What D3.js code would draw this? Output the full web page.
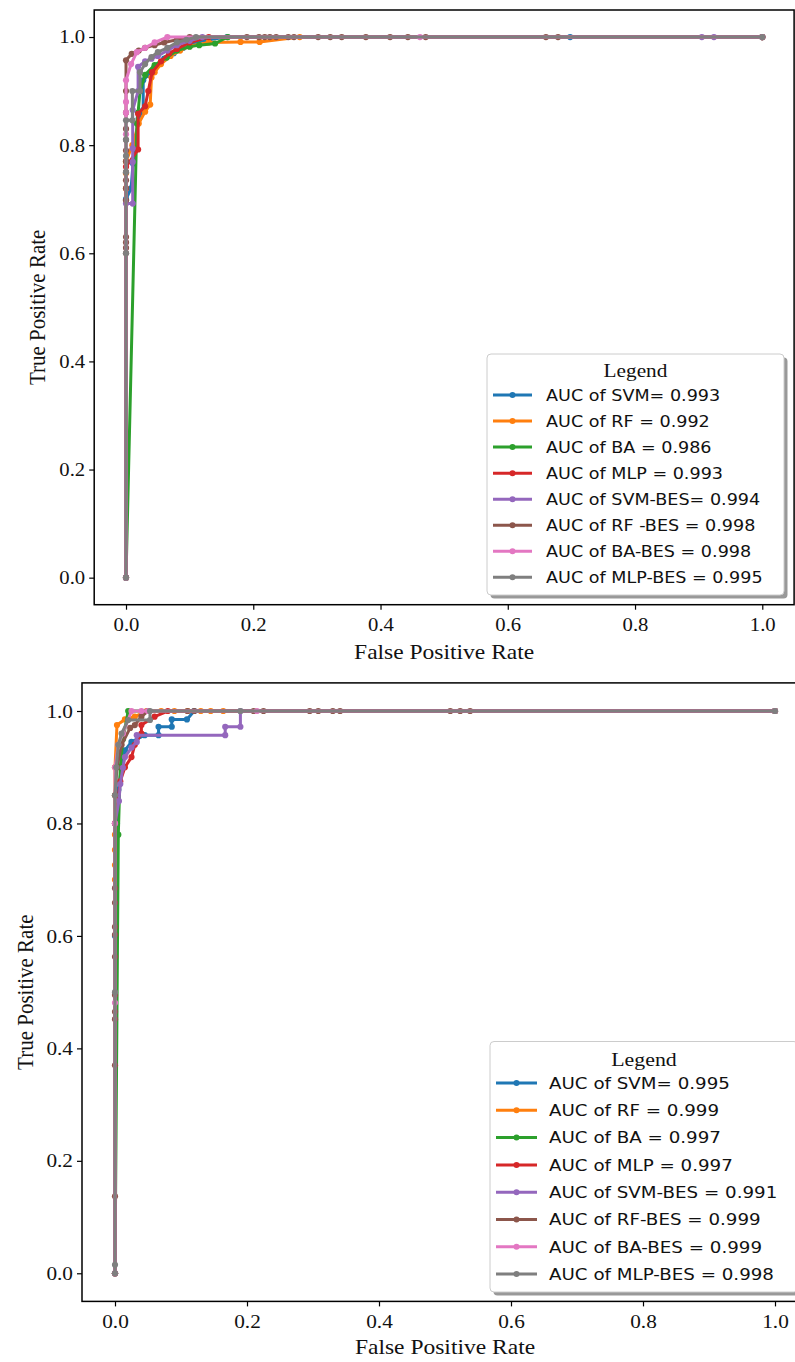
<!DOCTYPE html>
<html>
<head>
<meta charset="utf-8">
<script src="https://cdn.jsdelivr.net/npm/d3@7"></script>
<style>
  html, body { margin: 0; padding: 0; background: #fff; }
  svg { display: block; }
</style>
</head>
<body>
<svg id="chart" width="795" height="1362"></svg>
<script>
// ---------------- DATA ----------------
const seriesNames = ["SVM", "RF", "BA", "MLP", "SVM-BES", "RF-BES", "BA-BES", "MLP-BES"];
const seriesColors = ["#1f77b4", "#ff7f0e", "#2ca02c", "#d62728", "#9467bd", "#8c564b", "#e377c2", "#7f7f7f"];
const tickValues = [0, 0.2, 0.4, 0.6, 0.8, 1.0];
const xLabel = "False Positive Rate";
const yLabel = "True Positive Rate";
const legendTitle = "Legend";

const topLegend = [
  "AUC of SVM= 0.993", "AUC of RF = 0.992", "AUC of BA = 0.986", "AUC of MLP = 0.993",
  "AUC of SVM-BES= 0.994", "AUC of RF -BES = 0.998", "AUC of BA-BES = 0.998", "AUC of MLP-BES = 0.995"
];
const bottomLegend = [
  "AUC of SVM= 0.995", "AUC of RF = 0.999", "AUC of BA = 0.997", "AUC of MLP = 0.997",
  "AUC of SVM-BES = 0.991", "AUC of RF-BES = 0.999", "AUC of BA-BES = 0.999", "AUC of MLP-BES = 0.998"
];

// Top panel ROC points [fpr, tpr]
const topSVM = [[0,0],[0,0.70],[0.008,0.72],[0.011,0.766],[0.02,0.85],[0.027,0.865],[0.027,0.92],[0.035,0.93],[0.045,0.945],[0.06,0.96],[0.075,0.97],[0.09,0.98],[0.11,0.99],[0.13,0.995],[0.159,1.0],[0.698,1.0],[1,1]];
const topRF = [[0,0],[0,0.72],[0,0.748],[0,0.77],[0.01,0.80],[0.02,0.84],[0.03,0.862],[0.038,0.875],[0.04,0.925],[0.045,0.935],[0.055,0.95],[0.07,0.965],[0.085,0.975],[0.1,0.983],[0.13,0.99],[0.18,0.991],[0.21,0.991],[0.273,1.0],[1,1]];
const topBA = [[0,0],[0.017,0.84],[0.019,0.86],[0.022,0.9],[0.03,0.93],[0.045,0.948],[0.064,0.962],[0.08,0.975],[0.1,0.982],[0.115,0.985],[0.14,0.988],[0.16,1.0],[1,1]];
const topMLP = [[0,0],[0,0.76],[0.019,0.792],[0.019,0.858],[0.03,0.872],[0.035,0.9],[0.041,0.935],[0.055,0.955],[0.068,0.97],[0.08,0.978],[0.1,0.99],[0.13,1.0],[1,1]];
const topSVMBES = [[0,0],[0,0.692],[0.0105,0.692],[0.0105,0.769],[0.0105,0.794],[0.0105,0.865],[0.019,0.9],[0.019,0.945],[0.03,0.955],[0.04,0.96],[0.05,0.965],[0.065,0.975],[0.08,0.985],[0.1,0.993],[0.12,1.0],[0.905,1.0],[0.924,1.0],[1,1]];
const topRFBES = [[0,0],[0,0.6],[0,0.61],[0,0.62],[0,0.63],[0,0.698],[0,0.72],[0,0.735],[0,0.75],[0,0.77],[0,0.79],[0,0.81],[0,0.83],[0,0.86],[0,0.9],[0,0.957],[0.009,0.969],[0.02,0.975],[0.03,0.98],[0.045,0.985],[0.06,0.99],[0.08,0.995],[0.1,1.0],[0.19,1],[0.209,1],[0.218,1],[0.226,1],[0.236,1],[0.255,1],[0.264,1],[0.302,1],[0.321,1],[0.339,1],[0.377,1],[0.415,1],[0.443,1],[0.471,1],[0.66,1],[0.679,1],[1,1]];
const topBABES = [[0,0],[0,0.82],[0,0.86],[0,0.88],[0,0.92],[0.008,0.95],[0.017,0.972],[0.03,0.98],[0.045,0.99],[0.065,1.0],[0.462,1.0],[1,1]];
const topMLPBES = [[0,0],[0,0.6],[0,0.75],[0,0.78],[0,0.81],[0,0.846],[0.01,0.846],[0.01,0.9],[0.022,0.9],[0.022,0.935],[0.03,0.95],[0.04,0.963],[0.05,0.972],[0.065,0.98],[0.08,0.99],[0.095,0.995],[0.11,1.0],[1,1]];

// Bottom panel ROC points [fpr, tpr]
const botSVM = [[0,0],[0,0.6],[0.003,0.8],[0.005,0.86],[0.01,0.9],[0.015,0.93],[0.025,0.945],[0.045,0.957],[0.066,0.957],[0.066,0.972],[0.086,0.972],[0.086,0.985],[0.109,0.985],[0.12,1.0],[1,1]];
const botRF = [[0,0],[0,0.70],[0,0.726],[0,0.753],[0,0.78],[0,0.85],[0,0.9],[0.003,0.975],[0.015,0.985],[0.03,0.99],[0.048,1.0],[0.07,1],[0.09,1],[0.11,1],[0.13,1],[0.145,1],[0.164,1],[1,1]];
const botBA = [[0,0],[0.005,0.78],[0.008,0.9],[0.012,0.95],[0.02,1.0],[1,1]];
const botMLP = [[0,0],[0,0.8],[0.008,0.875],[0.015,0.9],[0.025,0.918],[0.03,0.94],[0.04,0.96],[0.04,0.975],[0.06,0.99],[0.08,1.0],[1,1]];
const botSVMBES = [[0,0],[0,0.8],[0.006,0.84],[0.008,0.87],[0.012,0.899],[0.015,0.918],[0.025,0.935],[0.033,0.945],[0.033,0.957],[0.167,0.957],[0.167,0.972],[0.19,0.972],[0.19,1.0],[1,1]];
const botRFBES = [[0,0],[0,0.137],[0,0.37],[0,0.452],[0,0.465],[0,0.495],[0,0.563],[0,0.602],[0,0.616],[0,0.659],[0,0.685],[0,0.8],[0,0.85],[0.003,0.9],[0.01,0.94],[0.023,0.97],[0.03,0.975],[0.04,0.99],[0.05,1.0],[0.11,1],[0.12,1],[0.21,1],[0.225,1],[0.295,1],[0.308,1],[0.33,1],[0.341,1],[0.508,1],[0.523,1],[0.538,1],[1,1]];
const botBABES = [[0,0],[0,0.481],[0,0.8],[0,0.9],[0.005,0.94],[0.012,0.96],[0.025,1.0],[0.04,1.0],[0.05,1.0],[0.215,1.0],[1,1]];
const botMLPBES = [[0,0],[0,0.015],[0,0.5],[0,0.85],[0.002,0.9],[0.005,0.94],[0.01,0.96],[0.02,0.984],[0.053,0.984],[0.053,1.0],[0.19,1.0],[1,1]];

const topSeries = [topSVM, topRF, topBA, topMLP, topSVMBES, topRFBES, topBABES, topMLPBES];
const botSeries = [botSVM, botRF, botBA, botMLP, botSVMBES, botRFBES, botBABES, botMLPBES];

// ---------------- LAYOUT ----------------
const panels = [
  { series: topSeries, legend: topLegend,
    xRange: [94.2, 794.1], yRange: [604.7, 10],
    tickFont: 18.5, labelFont: 21, stretch: 1.12,
    xLabelY: 659, yLabelX: 37,
    leg: { x: 487, y: 354, w: 297, h: 241, titleY: 377, rowY0: 395, rowDy: 26.05, hx1: 493, hx2: 532, tx: 546, font: 15.7, titleFont: 19 } },
  { series: botSeries, legend: bottomLegend,
    xRange: [82, 808], yRange: [1301.4, 682.9],
    tickFont: 19, labelFont: 21, stretch: 1.12,
    xLabelY: 1354, yLabelX: 25,
    leg: { x: 490, y: 1041.5, w: 308, h: 250.5, titleY: 1066, rowY0: 1083, rowDy: 27.3, hx1: 496, hx2: 537, tx: 549, font: 16.3, titleFont: 19.5 } }
];

const svg = d3.select("#chart");
svg.append("rect").attr("width", 795).attr("height", 1362).attr("fill", "#fff");

panels.forEach(p => {
  const x = d3.scaleLinear().domain([-0.05, 1.05]).range(p.xRange);
  const y = d3.scaleLinear().domain([-0.05, 1.05]).range(p.yRange);
  const g = svg.append("g");

  // Axes
  const xAxis = d3.axisBottom(x).tickValues(tickValues).tickFormat(d3.format(".1f")).tickSizeOuter(0).tickSize(5).tickPadding(4);
  const yAxis = d3.axisLeft(y).tickValues(tickValues).tickFormat(d3.format(".1f")).tickSizeOuter(0).tickSize(5).tickPadding(4);
  const gx = g.append("g").attr("transform", `translate(0,${p.yRange[0]})`).call(xAxis);
  const gy = g.append("g").attr("transform", `translate(${p.xRange[0]},0)`).call(yAxis);
  [gx, gy].forEach(a => {
    a.select(".domain").remove();
    a.selectAll(".tick line").attr("stroke", "#000").attr("stroke-width", 1.2);
    a.selectAll(".tick text")
      .attr("fill", "#111")
      .style("font-family", "'Liberation Serif', 'Times New Roman', serif")
      .style("font-size", p.tickFont + "px");
  });
  gx.selectAll(".tick text").attr("transform", `scale(${p.stretch},1)`).attr("dy", "0.95em");
  gy.selectAll(".tick text").each(function() {
    const t = d3.select(this);
    const xx = +t.attr("x");
    t.attr("x", xx / p.stretch).attr("transform", `scale(${p.stretch},1)`);
  });
  gx.selectAll(".tick text").each(function() {
    d3.select(this).attr("x", 0);
  });

  // Curves
  const line = d3.line().x(d => x(d[0])).y(d => y(d[1]));
  p.series.forEach((s, i) => {
    const sg = g.append("g");
    sg.append("path").datum(s)
      .attr("d", line)
      .attr("fill", "none")
      .attr("stroke", seriesColors[i])
      .attr("stroke-width", 3)
      .attr("stroke-linejoin", "round");
    sg.selectAll("circle").data(s).join("circle")
      .attr("cx", d => x(d[0]))
      .attr("cy", d => y(d[1]))
      .attr("r", 3.1)
      .attr("fill", seriesColors[i]);
  });

  // Frame
  g.append("rect")
    .attr("x", p.xRange[0]).attr("y", p.yRange[1])
    .attr("width", p.xRange[1] - p.xRange[0])
    .attr("height", p.yRange[0] - p.yRange[1])
    .attr("fill", "none").attr("stroke", "#000").attr("stroke-width", 1.5);

  // Axis labels
  const xMid = (x(0) + x(1)) / 2;
  g.append("text")
    .attr("transform", `translate(${xMid},${p.xLabelY}) scale(${p.stretch},1)`)
    .attr("text-anchor", "middle")
    .style("font-family", "'Liberation Serif', 'Times New Roman', serif")
    .style("font-size", p.labelFont + "px")
    .attr("fill", "#111")
    .text(xLabel);
  const yMid = (y(0) + y(1)) / 2;
  g.append("text")
    .attr("transform", `translate(${p.yLabelX},${yMid}) rotate(-90) scale(1,${p.stretch})`)
    .attr("text-anchor", "middle")
    .attr("dy", "0.35em")
    .style("font-family", "'Liberation Serif', 'Times New Roman', serif")
    .style("font-size", p.labelFont + "px")
    .attr("fill", "#111")
    .text(yLabel);

  // Legend
  const L = p.leg;
  const lg = g.append("g");
  lg.append("rect").attr("x", L.x + 3.5).attr("y", L.y + 3.5).attr("width", L.w).attr("height", L.h)
    .attr("rx", 4).attr("fill", "#000").attr("fill-opacity", 0.4);
  lg.append("rect").attr("x", L.x).attr("y", L.y).attr("width", L.w).attr("height", L.h)
    .attr("rx", 4).attr("fill", "#fff").attr("stroke", "#cccccc").attr("stroke-width", 1);
  lg.append("text")
    .attr("transform", `translate(${L.x + L.w / 2},${L.titleY}) scale(${p.stretch},1)`)
    .attr("text-anchor", "middle")
    .style("font-family", "'Liberation Serif', 'Times New Roman', serif")
    .style("font-size", L.titleFont + "px")
    .attr("fill", "#111")
    .text(legendTitle);
  p.legend.forEach((lab, i) => {
    const yy = L.rowY0 + i * L.rowDy;
    lg.append("line").attr("x1", L.hx1).attr("x2", L.hx2).attr("y1", yy).attr("y2", yy)
      .attr("stroke", seriesColors[i]).attr("stroke-width", 3);
    lg.append("circle").attr("cx", (L.hx1 + L.hx2) / 2).attr("cy", yy).attr("r", 3)
      .attr("fill", seriesColors[i]);
    lg.append("text")
      .attr("transform", `translate(${L.tx},${yy}) scale(${p.stretch},1)`)
      .attr("dy", "0.36em")
      .style("font-family", "'DejaVu Sans', sans-serif")
      .style("font-size", L.font + "px")
      .attr("fill", "#111")
      .text(lab);
  });
});
</script>
</body>
</html>
